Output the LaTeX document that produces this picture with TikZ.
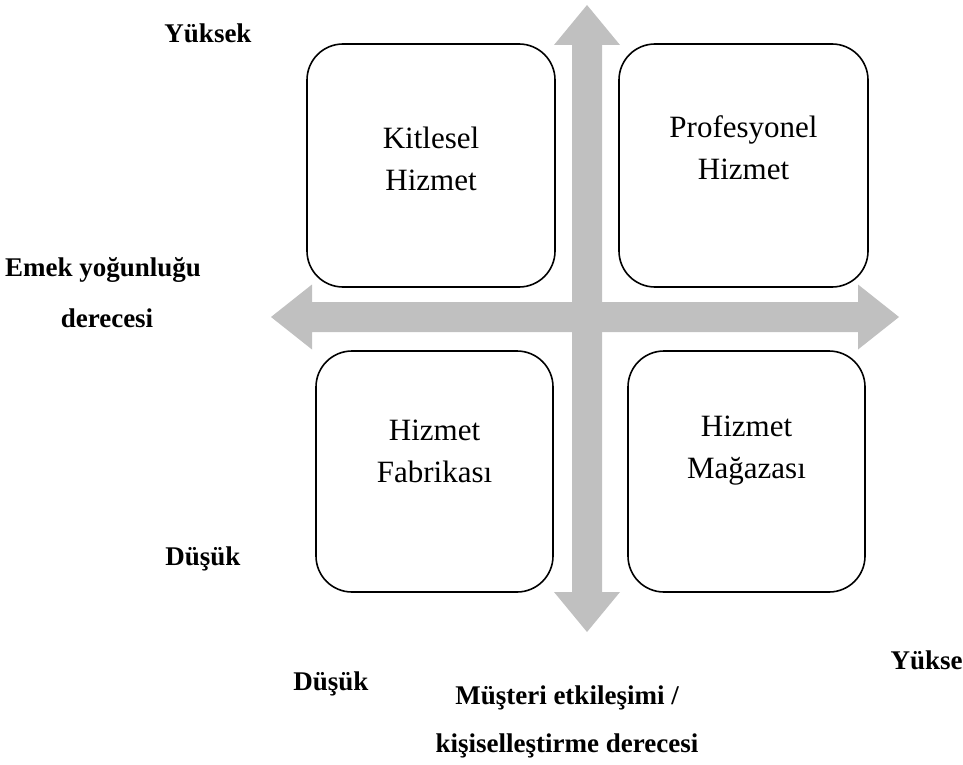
\documentclass[tikz,border=0pt]{standalone}
\usepackage{fontspec}
\setmainfont{Liberation Serif}
\begin{document}
\begin{tikzpicture}[x=1pt,y=-1pt,
  quad/.style={draw=black,line width=1.6pt,rounded corners=36pt,minimum width=#1},
  boxtext/.style={font=\fontsize{31}{42}\selectfont,align=center},
  lab/.style={font=\fontsize{27}{30}\selectfont\bfseries},
  axis/.style={fill=axisgray,draw=none}]
\definecolor{axisgray}{RGB}{192,192,192}
\useasboundingbox (0,0) rectangle (963,765);
% axes
\fill[axis] (587,5) -- (620,45) -- (602,45) -- (602,592) -- (620,592) -- (587,632) -- (554,592) -- (572,592) -- (572,45) -- (554,45) -- cycle;
\fill[axis] (271,317) -- (312,284.5) -- (312,302) -- (858,302) -- (858,284.5) -- (899,317) -- (858,349.5) -- (858,332) -- (312,332) -- (312,349.5) -- cycle;
% boxes
\node[quad=248pt,minimum height=243pt] (tl) at (431,165.5) {};
\node[quad=249pt,minimum height=243pt] (tr) at (743.5,165.5) {};
\node[quad=237pt,minimum height=241pt] (bl) at (434.5,471.5) {};
\node[quad=237pt,minimum height=241pt] (br) at (746.5,471.5) {};
% box texts
\node[boxtext] (t1) at (431,159) {Kitlesel\\Hizmet};
\node[boxtext] (t2) at (743.5,148) {Profesyonel\\Hizmet};
\node[boxtext] (t3) at (434.5,451) {Hizmet\\Fabrikası};
\node[boxtext] (t4) at (746.5,451) {Hizmet\\Mağazası};
% labels
\node[lab] (yh) at (208,33) {Yüksek};
\node[lab] (e1) at (103,270) {Emek yoğunluğu};
\node[lab] (e2) at (107,318) {derecesi};
\node[lab] (dl) at (203,559) {Düşük};
\node[lab,anchor=west] (yr) at (887,660) {Yükse};
\node[lab] (db) at (331,684) {Düşük};
\node[lab] (m1) at (567,698) {Müşteri etkileşimi /};
\node[lab] (m2) at (567,746) {kişiselleştirme derecesi};
\end{tikzpicture}
\end{document}
